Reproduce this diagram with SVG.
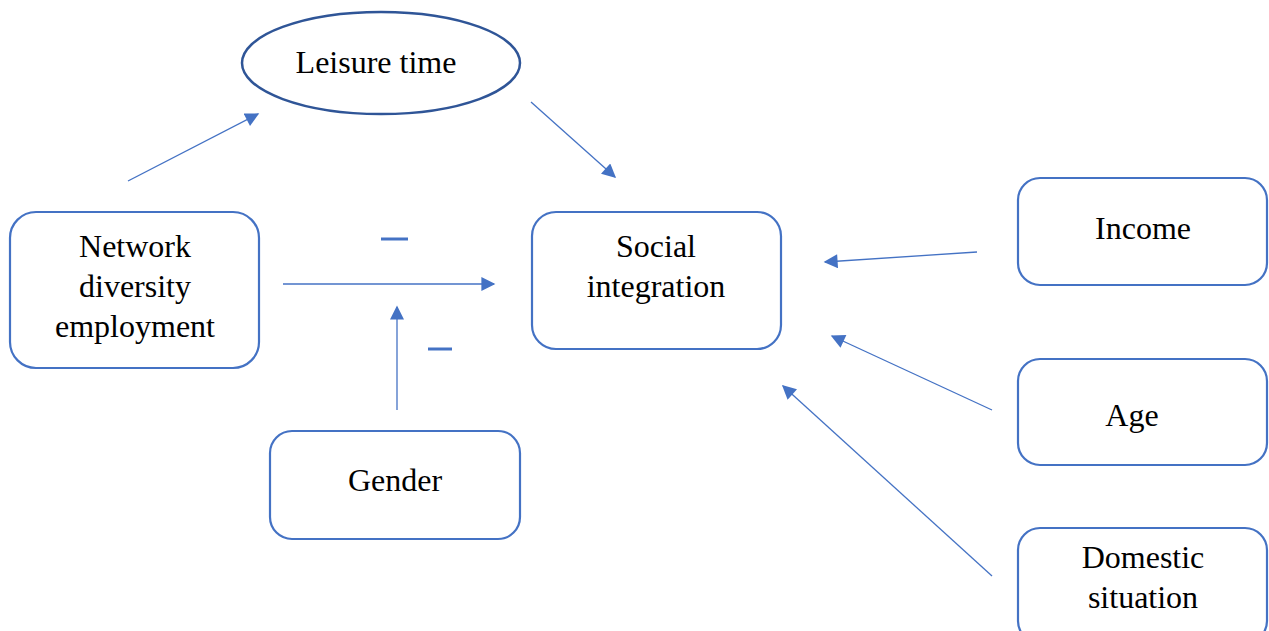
<svg xmlns="http://www.w3.org/2000/svg" width="1269" height="631" viewBox="0 0 1269 631">
<style>
.box{fill:#fff;stroke:#4472C4;stroke-width:2.2}
.ell{fill:#fff;stroke:#2F5597;stroke-width:2.5}
.t{font-family:"Liberation Serif","Times New Roman",serif;font-size:32px;fill:#000;text-anchor:middle}
.c{stroke:#4472C4;stroke-width:1.3;fill:none;marker-end:url(#ah)}
.m{stroke:#4472C4;stroke-width:3}
</style>
<defs>
<marker id="ah" viewBox="0 0 10 10" refX="9" refY="5" markerWidth="15" markerHeight="14" markerUnits="userSpaceOnUse" orient="auto">
<path d="M0,0 L10,5 L0,10 Z" fill="#4472C4"/>
</marker>
</defs>
<rect width="1269" height="631" fill="#fff"/>
<g id="leisure">
<ellipse class="ell" cx="381" cy="63" rx="139" ry="51"/>
<text class="t" x="376" y="73">Leisure time</text>
</g>
<g id="network">
<rect class="box" x="10" y="212" width="249" height="156" rx="26"/>
<text class="t" x="135" y="257">Network</text>
<text class="t" x="135" y="297">diversity</text>
<text class="t" x="135" y="337">employment</text>
</g>
<g id="social">
<rect class="box" x="532" y="212" width="249" height="137" rx="24"/>
<text class="t" x="656" y="257">Social</text>
<text class="t" x="656" y="297">integration</text>
</g>
<g id="gender">
<rect class="box" x="270" y="431" width="250" height="108" rx="22"/>
<text class="t" x="395" y="491">Gender</text>
</g>
<g id="income">
<rect class="box" x="1018" y="178" width="249" height="107" rx="22"/>
<text class="t" x="1143" y="239">Income</text>
</g>
<g id="age">
<rect class="box" x="1018" y="359" width="249" height="106" rx="22"/>
<text class="t" x="1132" y="426">Age</text>
</g>
<g id="domestic">
<rect class="box" x="1018" y="528" width="249" height="115" rx="22"/>
<text class="t" x="1143" y="568">Domestic</text>
<text class="t" x="1143" y="608">situation</text>
</g>
<g id="connectors">
<line class="c" x1="128" y1="181" x2="258" y2="114"/>
<line class="c" x1="531" y1="102" x2="615" y2="177"/>
<line class="c" x1="283" y1="284" x2="494" y2="284"/>
<line class="c" x1="397" y1="410" x2="397" y2="307"/>
<line class="c" x1="977" y1="252" x2="825" y2="262"/>
<line class="c" x1="992" y1="410" x2="832" y2="336"/>
<line class="c" x1="992" y1="576" x2="783" y2="386"/>
<line class="m" x1="381" y1="239" x2="408" y2="239"/>
<line class="m" x1="428" y1="349" x2="452" y2="349"/>
</g>
</svg>
